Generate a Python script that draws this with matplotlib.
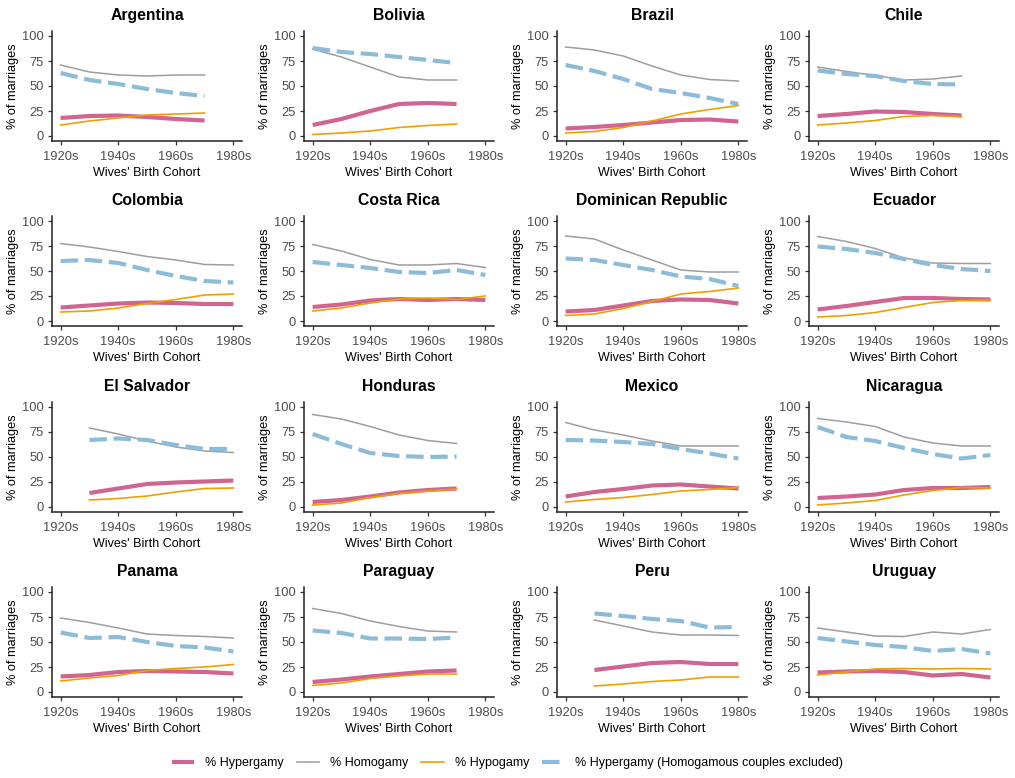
import numpy as np
import matplotlib
matplotlib.use("Agg")
import matplotlib.pyplot as plt
from matplotlib.lines import Line2D

nan = np.nan
years = [1920, 1930, 1940, 1950, 1960, 1970, 1980]
xtick_vals = [1920, 1940, 1960, 1980]
xtick_labels = ["1920s", "1940s", "1960s", "1980s"]
ytick_vals = [0, 25, 50, 75, 100]

countries = ["Argentina", "Bolivia", "Brazil", "Chile",
             "Colombia", "Costa Rica", "Dominican Republic", "Ecuador",
             "El Salvador", "Honduras", "Mexico", "Nicaragua",
             "Panama", "Paraguay", "Peru", "Uruguay"]

hypergamy = {
    "Argentina": [18, 20, 20.5, 19, 17, 15.5, nan],
    "Bolivia": [11, 17, 25, 32, 33, 32, nan],
    "Brazil": [7.5, 9, 11, 13.5, 16, 16.5, 14.5],
    "Chile": [20, 22, 24.5, 24, 22, 20.5, nan],
    "Colombia": [13.5, 15.5, 17.5, 18.5, 18, 17, 17],
    "Costa Rica": [14, 16.5, 20.5, 22, 21, 22, 21],
    "Dominican Republic": [9.5, 11, 15.5, 20, 21.5, 21, 17.5],
    "Ecuador": [11.5, 15, 19, 23, 23, 22, 21.5],
    "El Salvador": [nan, 14, 18.5, 23, 24.5, 25.5, 26.5],
    "Honduras": [5, 7, 10.5, 14.5, 17, 18.5, nan],
    "Mexico": [10.5, 15, 18, 21.5, 22.5, 20.5, 18.5],
    "Nicaragua": [9, 10.5, 12.5, 17, 19, 19, 20],
    "Panama": [15.5, 17, 20, 21, 20.5, 20, 18.5],
    "Paraguay": [10, 12.5, 15.5, 18, 20.5, 21.5, nan],
    "Peru": [nan, 22, 25.5, 29, 30, 28, 28],
    "Uruguay": [19.5, 20.5, 21, 20, 16.5, 18, 14.5],
}
homogamy = {
    "Argentina": [71, 64, 61, 60, 61, 61, nan],
    "Bolivia": [87, 79, 69, 59, 56, 56, nan],
    "Brazil": [89, 86, 80, 70, 61, 56.5, 55],
    "Chile": [69, 64.5, 60.5, 56, 57, 60, nan],
    "Colombia": [77.5, 74, 69.5, 64.5, 61, 56.5, 56],
    "Costa Rica": [76.5, 70, 61.5, 56, 56, 57.5, 53.5],
    "Dominican Republic": [85, 82, 71, 61, 51, 49, 49],
    "Ecuador": [84.5, 79.5, 72.5, 63, 58, 57.5, 57.5],
    "El Salvador": [nan, 79, 73, 66, 60, 56, 54.5],
    "Honduras": [92.5, 88, 80.5, 72, 66.5, 63.5, nan],
    "Mexico": [84.5, 77, 72, 66, 61, 61, 61],
    "Nicaragua": [88.5, 85, 80.5, 70, 64, 61, 61],
    "Panama": [74, 69.5, 64, 58, 56.5, 55.5, 54],
    "Paraguay": [83.5, 78.5, 71, 65.5, 61, 60, nan],
    "Peru": [nan, 72, 66, 60, 57, 57, 56.5],
    "Uruguay": [64, 60, 56, 55.5, 60, 58, 62.5],
}
hypogamy = {
    "Argentina": [11, 15, 18, 21, 22, 23, nan],
    "Bolivia": [1.5, 3, 5, 8.5, 10.5, 12, nan],
    "Brazil": [3, 4.5, 8.5, 15, 22, 26.5, 30.5],
    "Chile": [11, 13, 15.5, 19.5, 20.5, 19.5, nan],
    "Colombia": [9, 10, 13, 17.5, 21.5, 26, 27],
    "Costa Rica": [10, 13, 18, 22, 23, 21.5, 25],
    "Dominican Republic": [5.5, 7, 12.5, 19.5, 27, 29.5, 33],
    "Ecuador": [4, 5.5, 8.5, 13.5, 18.5, 20.5, 21],
    "El Salvador": [nan, 7, 8.5, 11, 15, 18.5, 19],
    "Honduras": [2, 4, 9.5, 13.5, 16, 18, nan],
    "Mexico": [5, 7.5, 9.5, 12.5, 16, 17.5, 19.5],
    "Nicaragua": [2, 4, 6.5, 12, 16.5, 19.5, 19],
    "Panama": [11, 14, 16.5, 21.5, 23.5, 25, 27.5],
    "Paraguay": [6.5, 9, 13.5, 16, 18, 18, nan],
    "Peru": [nan, 6, 8, 10.5, 12, 15, 15],
    "Uruguay": [17, 20, 23, 23.5, 23, 23.5, 23],
}
hypergamy_excl = {
    "Argentina": [63, 56, 52, 47, 43, 40, nan],
    "Bolivia": [88, 84, 82, 79, 76, 73, nan],
    "Brazil": [71, 65, 57, 47, 43, 38, 32],
    "Chile": [65.5, 62, 60, 55, 52, 51.5, nan],
    "Colombia": [60, 61, 58, 51, 45, 40, 38.5],
    "Costa Rica": [59, 56, 53, 49, 48, 51, 46],
    "Dominican Republic": [62.5, 61, 56, 51, 44.5, 42, 35],
    "Ecuador": [74.5, 72, 68, 62, 56, 52, 50],
    "El Salvador": [nan, 67, 68.5, 67, 62, 58, 58],
    "Honduras": [73, 63, 54, 51, 50, 50.5, nan],
    "Mexico": [67, 66.5, 65, 63, 58, 53.5, 48.5],
    "Nicaragua": [80, 70, 66, 59, 53, 48.5, 52],
    "Panama": [59.5, 54, 55, 50, 46, 44.5, 40.5],
    "Paraguay": [61.5, 59, 53.5, 53.5, 53, 54.5, nan],
    "Peru": [nan, 78.5, 76, 73, 71, 64.5, 65],
    "Uruguay": [54, 50.5, 47, 45, 41, 43, 38.5],
}

series_labels = ["% Hypergamy", "% Homogamy", "% Hypogamy",
                 "% Hypergamy (Homogamous couples excluded)"]

C_HYPER = "#CF6590"
C_HOMO = "#9E9E9E"
C_HYPO = "#EFA000"
C_EXCL = "#8DBCD8"

plt.rcParams["font.family"] = ["Liberation Sans", "DejaVu Sans"]

W, H = 1015, 778
fig = plt.figure(figsize=(W / 100, H / 100), dpi=100)

col_left = [52, 304, 557, 809]
row_top = [31, 216, 402, 587]
ax_w, ax_h = 190, 110

styles = [
    (hypergamy, dict(color=C_HYPER, lw=3.0, solid_capstyle="butt")),
    (homogamy, dict(color=C_HOMO, lw=1.1)),
    (hypogamy, dict(color=C_HYPO, lw=1.2)),
    (hypergamy_excl, dict(color=C_EXCL, lw=3.0, dashes=(4.2, 1.6), dash_capstyle="butt")),
]

for i, country in enumerate(countries):
    r, c = divmod(i, 4)
    left = col_left[c] / W
    bottom = 1 - (row_top[r] + ax_h) / H
    ax = fig.add_axes([left, bottom, ax_w / W, ax_h / H])
    for data, st in styles:
        ax.plot(years, data[country], **st)
    ax.set_xlim(1917, 1983)
    ax.set_ylim(-5, 105)
    ax.set_xticks(xtick_vals)
    ax.set_xticklabels(xtick_labels)
    ax.set_yticks(ytick_vals)
    for s in ["top", "right"]:
        ax.spines[s].set_visible(False)
    for s in ["left", "bottom"]:
        ax.spines[s].set_linewidth(1.1)
        ax.spines[s].set_color("#222222")
    ax.tick_params(axis="both", length=3, width=0.9, color="#333333",
                   labelsize=9.3, labelcolor="#4D4D4D", pad=3)
    ax.tick_params(axis="x", pad=4)
    ax.set_xlabel("Wives' Birth Cohort", fontsize=9, color="black", labelpad=3)
    ax.set_ylabel("% of marriages", fontsize=9.2, color="black", labelpad=2)
    ax.set_title(country, fontsize=11.3, fontweight="bold", pad=8)

handles = [Line2D([], [], **st) for _, st in styles]
fig.legend(handles, series_labels, loc="center", ncol=4,
           bbox_to_anchor=(0.5, 1 - 763 / H), frameon=False,
           fontsize=9, handlelength=1.8, columnspacing=1.0, handletextpad=0.9)

fig.savefig("out.png", dpi=100)
